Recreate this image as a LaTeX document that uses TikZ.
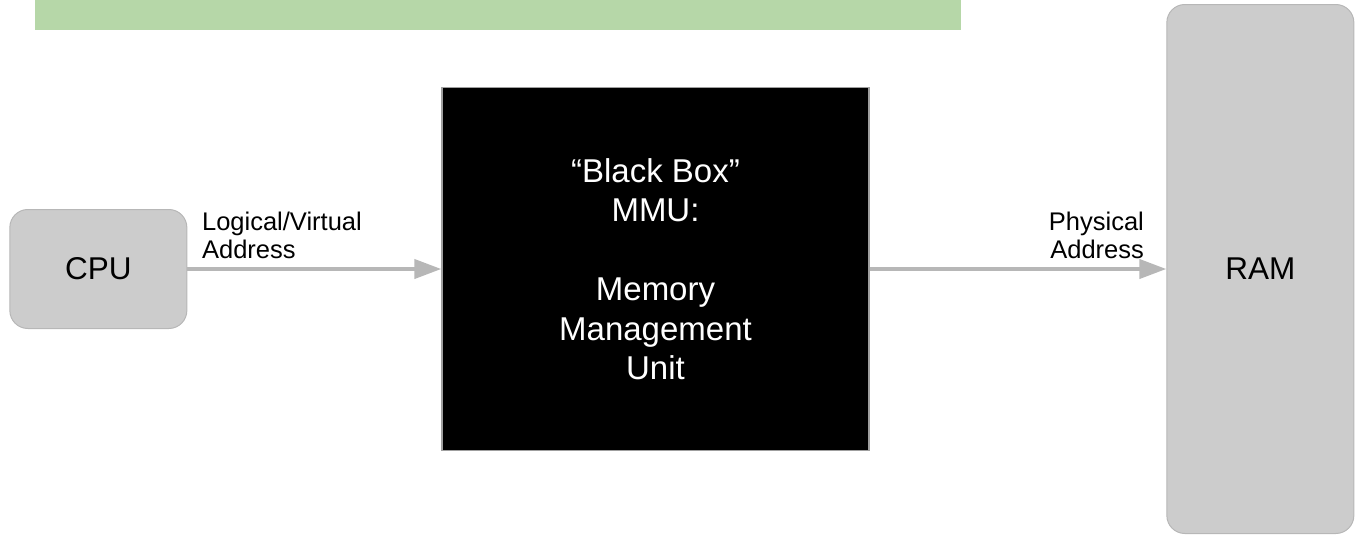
\documentclass[tikz,border=0pt]{standalone}
\usepackage{fontspec}
\setmainfont{Liberation Sans}
\usetikzlibrary{arrows.meta}
\usetikzlibrary{positioning}

\definecolor{unitgray}{HTML}{CCCCCC}
\definecolor{rimgray}{HTML}{B7B7B7}
\definecolor{busgray}{HTML}{B7B7B7}
\definecolor{bandgreen}{HTML}{B6D7A8}

\begin{document}
\begin{tikzpicture}[x=1pt,y=-1pt,thick,
  unit node/.style={rectangle,rounded corners=18pt,fill=unitgray,draw=rimgray,
  line width=1pt,font=\fontsize{31.5}{37}\selectfont,inner sep=0pt},
  mmu node/.style={rectangle,fill=black,draw=gray!75,line width=1.3pt,
  text=white,align=center,font=\fontsize{33}{39.5}\selectfont,inner sep=0pt},
  bus/.style={-{Triangle[length=27pt,width=19pt]},draw=busgray,line width=4pt},
  bus label/.style={font=\fontsize{25.5}{28}\selectfont,inner sep=0pt}]

  \useasboundingbox (0,0) rectangle (1359,536);

  % green band along the top edge
  \fill[bandgreen] (35,-2) rectangle (961,30);

  \node[mmu node,minimum width=427pt,minimum height=363pt] (MMU) at (655.5,269)
    {“Black Box”\\MMU:\\[39.5pt]Memory\\Management\\Unit};
  \node[unit node,minimum width=177pt,minimum height=119pt] (CPU) [left=254pt of MMU] {CPU};
  \node[unit node,minimum width=187pt,minimum height=529pt] (RAM) [right=296.7pt of MMU] {RAM};

  %Address labels above the buses (base = last line)
  \node[bus label,align=left,anchor=base west] (LVA) at (201.7,258) {Logical/Virtual\\Address};
  \node[bus label,align=right,anchor=base east] (PA) at (1144.3,258.3) {Physical\\Address};

  \path
    %CPU hands the logical address to the MMU
    (CPU) edge[bus] (MMU)
    %MMU sends the physical address on to RAM
    (MMU) edge[bus] (RAM);

\end{tikzpicture}
\end{document}
